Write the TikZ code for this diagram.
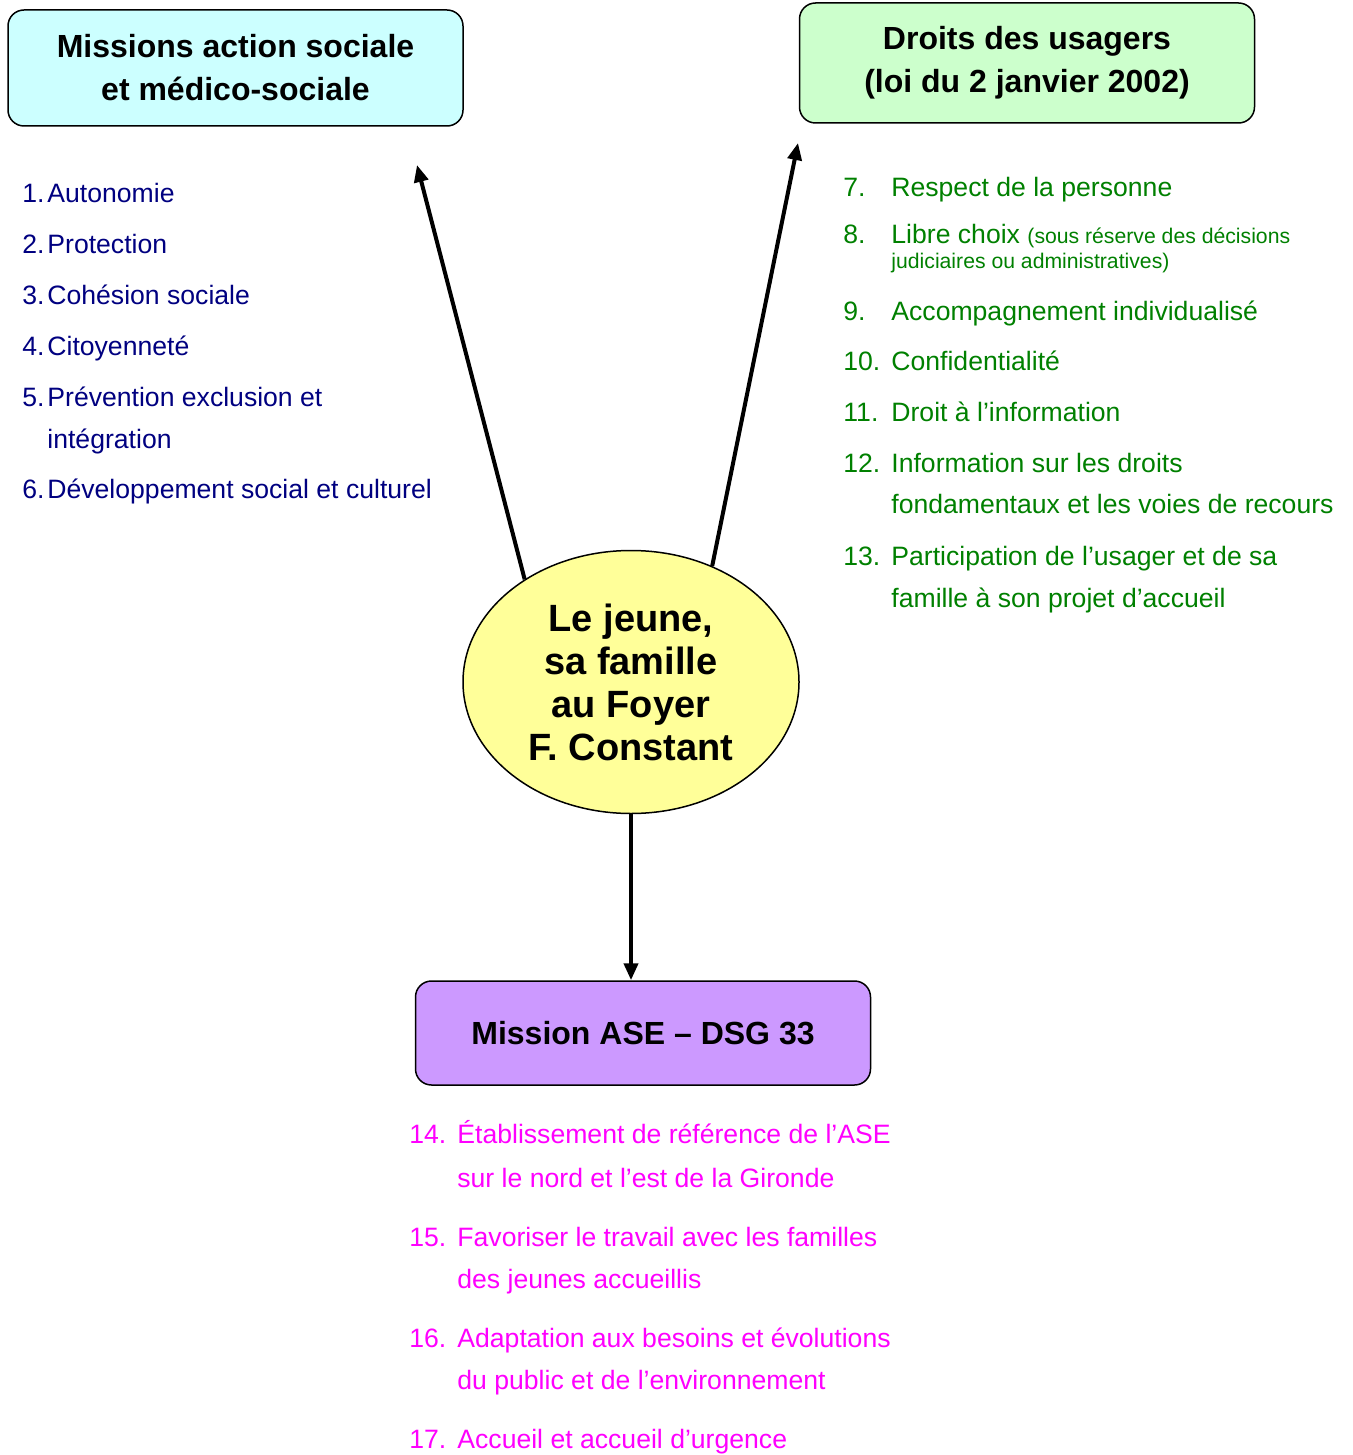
\documentclass[tikz,border=0pt]{standalone}
\usepackage{fontspec}
\setmainfont{Liberation Sans}
\usetikzlibrary{arrows.meta,shapes.geometric}
\definecolor{missioncyan}{HTML}{CCFFFF}
\definecolor{droitsgreen}{HTML}{CCFFCC}
\definecolor{jeuneyellow}{HTML}{FFFF99}
\definecolor{asepurple}{HTML}{CC99FF}
\definecolor{listnavy}{HTML}{000080}
\definecolor{listgreen}{HTML}{008000}
\definecolor{listmagenta}{HTML}{FF00FF}

\begin{document}
\begin{tikzpicture}[x=0.5pt,y=-0.5pt,
  titlebox/.style={draw, line width=0.75pt, rounded corners=8pt, align=center,
    minimum width=227.5pt, font=\fontsize{16}{21.5}\selectfont\bfseries},
  item/.style={anchor=base west, inner sep=0pt, font=\fontsize{13.3}{15}\selectfont},
  small/.style={font=\fontsize{10.6}{12}\selectfont},
  bigarrow/.style={line width=2pt, -{Triangle[length=8.5pt,width=7pt]}}]
\useasboundingbox (0,0) rectangle (1353,1455);

% Boxes
\node[titlebox, fill=missioncyan, minimum height=58pt] (missions) at (235.5,68)
  {Missions action sociale\\et médico-sociale};
\node[titlebox, fill=droitsgreen, minimum height=60pt] (droits) at (1027,63)
  {Droits des usagers\\(loi du 2 janvier 2002)};
\node[titlebox, fill=asepurple, minimum height=52pt] (ase) at (643,1033)
  {Mission ASE – DSG 33};

% Centre
\node[draw, line width=0.75pt, ellipse, fill=jeuneyellow, inner sep=0pt,
  minimum width=168pt, minimum height=131.5pt, align=center,
  font=\fontsize{19}{21.5}\selectfont\bfseries] (jeune) at (631,682)
  {Le jeune,\\sa famille\\au Foyer\\F. Constant};

% Arrows
\coordinate (tipL) at (417,165);
\coordinate (tipR) at (798,143);
\draw[bigarrow] (jeune.136) -- (tipL);
\draw[bigarrow] (jeune.55.6) -- (tipR);
\draw[bigarrow] (jeune.south) -- (jeune.south |- ase.north);

% Missions action sociale
\begin{scope}[listnavy]
\node[item] (n1) at (22,203) {1.};  \node[item] (m1) at (47,203) {Autonomie};
\node[item] (n2) at (22,254) {2.};  \node[item] (m2) at (47,254) {Protection};
\node[item] (n3) at (22,304) {3.};  \node[item] (m3) at (47,304) {Cohésion sociale};
\node[item] (n4) at (22,355) {4.};  \node[item] (m4) at (47,355) {Citoyenneté};
\node[item] (n5) at (22,406) {5.};  \node[item] (m5) at (47,406) {Prévention exclusion et};
\node[item] (m5b) at (47,448) {intégration};
\node[item] (n6) at (22,498) {6.};  \node[item] (m6) at (47,498) {Développement social et culturel};
\end{scope}

% Droits des usagers
\begin{scope}[listgreen]
\node[item] (n7) at (843,197) {7.};   \node[item] (d7) at (891,197) {Respect de la personne};
\node[item] (n8) at (843,243) {8.};   \node[item] (d8) at (891,243) {Libre choix {\fontsize{10.6}{12}\selectfont(sous réserve des décisions}};
\node[item, small] (d8b) at (891,269) {judiciaires ou administratives)};
\node[item] (n9) at (843,320) {9.};   \node[item] (d9) at (891,320) {Accompagnement individualisé};
\node[item] (n10) at (843,370) {10.}; \node[item] (d10) at (891,370) {Confidentialité};
\node[item] (n11) at (843,421) {11.}; \node[item] (d11) at (891,421) {Droit à l’information};
\node[item] (n12) at (843,472) {12.}; \node[item] (d12) at (891,472) {Information sur les droits};
\node[item] (d12b) at (891,513) {fondamentaux et les voies de recours};
\node[item] (n13) at (843,565) {13.}; \node[item] (d13) at (891,565) {Participation de l’usager et de sa};
\node[item] (d13b) at (891,607) {famille à son projet d’accueil};
\end{scope}

% Mission ASE
\begin{scope}[listmagenta]
\node[item] (n14) at (409,1143) {14.}; \node[item] (a14) at (457,1143) {Établissement de référence de l’ASE};
\node[item] (a14b) at (457,1187) {sur le nord et l’est de la Gironde};
\node[item] (n15) at (409,1246) {15.}; \node[item] (a15) at (457,1246) {Favoriser le travail avec les familles};
\node[item] (a15b) at (457,1288) {des jeunes accueillis};
\node[item] (n16) at (409,1347) {16.}; \node[item] (a16) at (457,1347) {Adaptation aux besoins et évolutions};
\node[item] (a16b) at (457,1389) {du public et de l’environnement};
\node[item] (n17) at (409,1448) {17.}; \node[item] (a17) at (457,1448) {Accueil et accueil d’urgence};
\end{scope}
\end{tikzpicture}
\end{document}
